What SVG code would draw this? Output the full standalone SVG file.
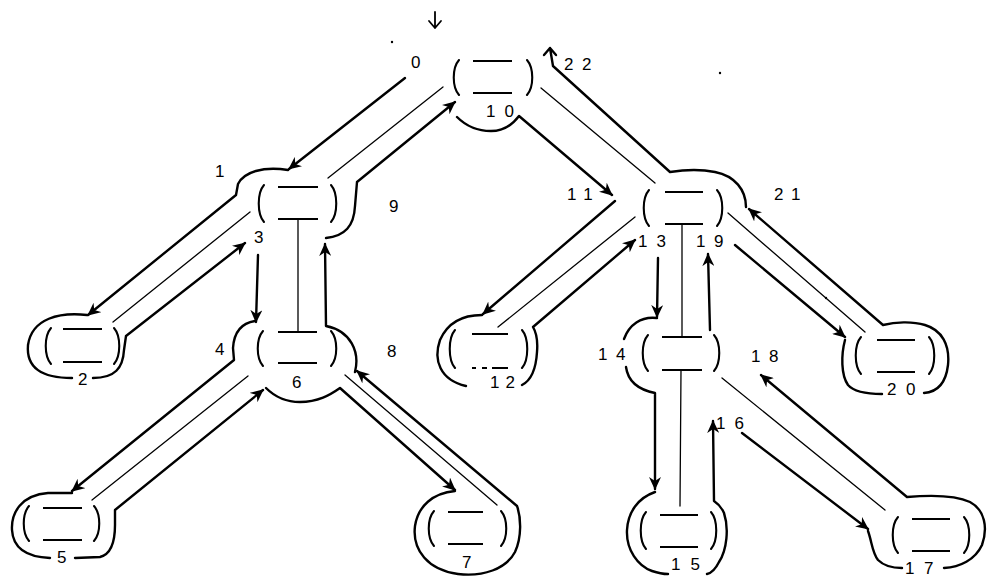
<svg xmlns="http://www.w3.org/2000/svg" width="988" height="578" viewBox="0 0 988 578">
<defs>
<style>
.c{fill:none;stroke:#000;stroke-width:2.4;stroke-linecap:round;stroke-linejoin:round}
.e{fill:none;stroke:#000;stroke-width:1.3;stroke-linecap:round}
.p{fill:none;stroke:#000;stroke-width:2.1;stroke-linecap:round}
.b{fill:none;stroke:#000;stroke-width:2}
.a{marker-end:url(#ah)}
text{font-family:"Liberation Sans",Arial,sans-serif;font-size:17px;fill:#000}
</style>
<marker id="ah" markerWidth="14" markerHeight="12" refX="12" refY="6" orient="auto" markerUnits="userSpaceOnUse"><path d="M0,0 L13,6 L0,12 L4,6 Z" fill="#000"/></marker>
</defs>
<rect width="988" height="578" fill="#fff"/>

<g id="node-root"><path class="p" d="M459,60 C452,68 452,87 459,95 M527,60 C534,68 534,87 527,95"/><path class="b" d="M473,61 H512 M473,93 H512"/></g>
<g id="node-1"><path class="p" d="M264,185 C257,193 257,214 264,222 M331,185 C338,193 338,214 331,222"/><path class="b" d="M278,187 H318 M278,219 H318"/></g>
<g id="node-6"><path class="p" d="M263,331 C256,339 256,358 263,366 M331,331 C338,339 338,358 331,366"/><path class="b" d="M278,332 H317 M278,363 H317"/></g>
<g id="node-2"><path class="p" d="M51,328 C44,336 44,356 51,364 M114,328 C121,336 121,356 114,364"/><path class="b" d="M63,329 H102 M63,362 H102"/></g>
<g id="node-5"><path class="p" d="M29,506 C22,514 22,533 29,541 M94,506 C101,514 101,533 94,541"/><path class="b" d="M43,508 H82 M43,540 H82"/></g>
<g id="node-7"><path class="p" d="M434,511 C427,519 427,538 434,546 M501,511 C508,519 508,538 501,546"/><path class="b" d="M448,512 H483 M448,544 H483"/></g>
<g id="node-12"><path class="p" d="M455,330 C448,338 448,360 455,368 M522,330 C529,338 529,360 522,368"/><path class="b" d="M472,334 H508 M472,368 H476 M482,368 H487 M492,368 H508"/></g>
<g id="node-11"><path class="p" d="M649,190 C642,198 642,218 649,226 M717,190 C724,198 724,218 717,226"/><path class="b" d="M665,192 H703 M665,224 H703"/></g>
<g id="node-14"><path class="p" d="M648,335 C641,343 641,363 648,371 M714,335 C721,343 721,363 714,371"/><path class="b" d="M662,337 H702 M662,370 H702"/></g>
<g id="node-15"><path class="p" d="M646,512 C639,520 639,541 646,549 M711,512 C718,520 718,541 711,549"/><path class="b" d="M660,515 H698 M660,547 H698"/></g>
<g id="node-17"><path class="p" d="M898,517 C891,525 891,545 898,553 M964,517 C971,525 971,545 964,553"/><path class="b" d="M912,519 H950 M912,551 H950"/></g>
<g id="node-20"><path class="p" d="M861,337 C854,345 854,366 861,374 M929,337 C936,345 936,366 929,374"/><path class="b" d="M877,340 H915 M877,372 H915"/></g>

<g id="connectors">
<g id="tree-edges">
<path class="e" d="M443,87 L328,178"/>
<path class="e" d="M250,212 L113,322"/>
<path class="e" d="M298,219 L298,332"/>
<path class="e" d="M248,376 L92,500"/>
<path class="e" d="M345,375 L497,505"/>
<path class="e" d="M541,88 L655,183"/>
<path class="e" d="M635,217 L498,327"/>
<path class="e" d="M682,224 L682,337"/>
<path class="e" d="M681,370 L680,506"/>
<path class="e" d="M722,378 L885,510"/>
<path class="e" d="M728,213 L865,332"/>
</g>
<g id="contour">
<path class="c" style="stroke-width:1.8" d="M435,12 V28 M429,21 L435,28 L441,21"/>
<path class="c a" d="M405,78 L289,169"/>
<path class="c a" d="M288,170 C263,166 244,172 238,184 L236,195 L88,315"/>
<path class="c" d="M87,315 C60,312 32,318 28,345 C26,368 42,378 72,378"/>
<path class="c a" d="M93,378 C115,378 123,368 124,350 L126,336 L245,243"/>
<path class="c a" d="M258,255 L256,322"/>
<path class="c a" d="M255,321 C242,323 234,332 233,348 L234,360 L72,491"/>
<path class="c" d="M72,493 L48,493 C22,495 11,512 12,530 C13,548 27,557 50,558"/>
<path class="c a" d="M75,558 L100,557 C112,554 115,540 115,525 L115,510 L263,390"/>
<path class="c a" d="M266,388 C276,398 287,402 300,402 C318,402 330,395 340,388 L455,490"/>
<path class="c a" d="M455,491 C433,493 418,506 415,526 C412,550 428,570 458,574 C483,577 506,569 515,552 C522,537 521,517 517,506 L357,371"/>
<path class="c a" d="M355,372 C360,352 351,331 326,326 L325,244"/>
<path class="c a" d="M326,238 C345,236 354,226 355,206 L357,182 L455,102"/>
<path class="c a" d="M457,117 C468,128 480,131 491,131 C504,131 513,124 519,116 L612,195"/>
<path class="c a" d="M615,201 L483,314"/>
<path class="c" d="M482,315 C464,315 448,322 440,340 C433,360 440,380 466,386"/>
<path class="c a" d="M522,385 C532,380 536,369 537,352 C538,340 536,332 533,327 L635,240"/>
<path class="c a" d="M658,258 L657,317"/>
<path class="c" d="M657,318 C641,316 629,325 624,339"/>
<path class="c a" d="M626,367 C628,382 640,390 655,393 L655,489"/>
<path class="c" d="M655,492 C638,498 628,512 627,530 C626,550 638,566 652,571 C658,573 663,574 668,574"/>
<path class="c a" d="M707,574 C712,573 716,568 719,562 C727,550 729,528 724,513 C721,506 717,503 714,501 L713,421"/>
<path class="c a" d="M742,433 L868,529"/>
<path class="c" d="M868,531 C872,542 872,552 878,560 C884,566 893,568 902,568"/>
<path class="c a" d="M944,568 C960,567 975,560 982,545 C988,528 985,510 970,502 C955,495 930,495 907,497 L761,375"/>
<path class="c a" d="M710,330 L708,254"/>
<path class="c a" d="M735,245 L845,337"/>
<path class="c" d="M845,340 C841,355 841,375 848,385 C854,392 866,394 882,394"/>
<path class="c a" d="M924,393 C938,392 946,382 948,365 C950,345 942,330 925,325 C912,321 895,322 883,325 L749,209"/>
<path class="c" d="M746,207 C746,190 735,176 715,172 C700,169 683,170 670,172 L553,66 L550,48 M544,55 L550,48 L556,55"/>
</g>
</g>

<g id="labels">
<text x="411" y="68">0</text>
<text x="215" y="177">1</text>
<text x="78" y="385">2</text>
<text x="254" y="243">3</text>
<text x="215" y="355">4</text>
<text x="57" y="563">5</text>
<text x="292" y="388">6</text>
<text x="462" y="568">7</text>
<text x="387" y="357">8</text>
<text x="389" y="212">9</text>
<text x="486" y="117" letter-spacing="9">10</text>
<text x="567" y="200" letter-spacing="8">11</text>
<text x="490" y="388" letter-spacing="6">12</text>
<text x="638" y="247" letter-spacing="9">13</text>
<text x="598" y="360" letter-spacing="8.5">14</text>
<text x="671" y="570" letter-spacing="10">15</text>
<text x="716" y="429" letter-spacing="9">16</text>
<text x="905" y="574" letter-spacing="9.5">17</text>
<text x="751" y="362" letter-spacing="8.5">18</text>
<text x="696" y="247" letter-spacing="8.5">19</text>
<text x="887" y="395" letter-spacing="9.5">20</text>
<text x="774" y="200" letter-spacing="7.5">21</text>
<text x="564" y="70" letter-spacing="8.5">22</text>
</g>
<g id="specks"><circle cx="392" cy="42" r="1.2"/><circle cx="720" cy="73" r="1.2"/><circle cx="826" cy="298" r="1.2"/></g>
</svg>
